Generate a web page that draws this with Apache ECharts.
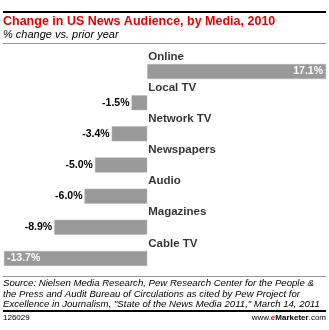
<!DOCTYPE html>
<html><head><meta charset="utf-8">
<script src="https://cdn.jsdelivr.net/npm/echarts@6/dist/echarts.min.js"></script>
<style>html,body{margin:0;padding:0;background:#fff}#c{width:329px;height:330px}</style>
</head><body><div id="c"></div>
<script>
const categories = ["Online","Local TV","Network TV","Newspapers","Audio","Magazines","Cable TV"];
const values = [17.1,-1.5,-3.4,-5.0,-6.0,-8.9,-13.7];
const titleText = "Change in US News Audience, by Media, 2010";
const subtitleText = "% change vs. prior year";
const sourceLines = [
 "Source: Nielsen Media Research, Pew Research Center for the People &",
 "the Press and Audit Bureau of Circulations as cited by Pew Project for",
 "Excellence in Journalism, \"State of the News Media 2011,\" March 14, 2011"
];
const chartId = "126029";

const F = "Liberation Sans, Arial, sans-serif";
const chart = echarts.init(document.getElementById('c'), null, {renderer:'canvas'});
const minV = Math.min(...values), maxV = Math.max(...values);
const barData = values.map((v,i)=>{
  let label;
  if (v === maxV) label = {position:'insideRight', color:'#fff', distance:3};
  else if (v === minV) label = {position:'insideLeft', color:'#fff', distance:3};
  else label = {position:'left', color:'#000', distance:2};
  return {value: v, label};
});
chart.setOption({
  animation:false,
  grid:{left:4, right:3, top:56, bottom:56, containLabel:false},
  xAxis:{type:'value', min:minV, max:maxV, show:false},
  yAxis:{type:'category', data:categories, inverse:true, show:false},
  series:[
    {type:'bar', data:barData, barWidth:15, itemStyle:{color:'#999999', borderColor:'#b5b5b5', borderWidth:0.5},
     label:{show:true, fontFamily:F, fontSize:10.5, fontWeight:'bold', formatter:p=>p.value.toFixed(1)+'%'}},
    {type:'scatter', data:categories.map(c=>[0,c]), symbolSize:0, silent:true,
     label:{show:true, position:'right', distance:1, offset:[0,-15], formatter:p=>categories[p.dataIndex],
       fontFamily:F, fontSize:11.5, fontWeight:'bold', color:'#000'}}
  ],
  graphic:[
    {type:'rect', shape:{x:3,y:11,width:323,height:2}, style:{fill:'#000'}},
    {type:'text', x:3, y:15, style:{text:titleText, font:'bold 12.5px '+F, fill:'#e60000'}},
    {type:'text', x:3, y:29, style:{text:subtitleText, font:'italic 11px '+F, fill:'#000'}},
    {type:'rect', shape:{x:3,y:43,width:323,height:1}, style:{fill:'#999'}},
    {type:'rect', shape:{x:3,y:276,width:323,height:1}, style:{fill:'#999'}},
    ...sourceLines.map((t,i)=>({type:'text', x:3, y:278.5+i*10.5, style:{text:t, font:'italic 9.6px '+F, fill:'#000'}})),
    {type:'rect', shape:{x:3,y:310,width:323,height:2}, style:{fill:'#000'}},
    {type:'text', x:3, y:314, style:{text:chartId, font:'8px '+F, fill:'#000'}},
    {type:'text', x:326, y:314, style:{text:'www.{e|e}{m|Marketer}.com', align:'right', font:'8px '+F, fill:'#000',
      rich:{e:{font:'bold 8px '+F, fill:'#e60000'}, m:{font:'bold 8px '+F, fill:'#000'}}}}
  ]
});
</script></body></html>
